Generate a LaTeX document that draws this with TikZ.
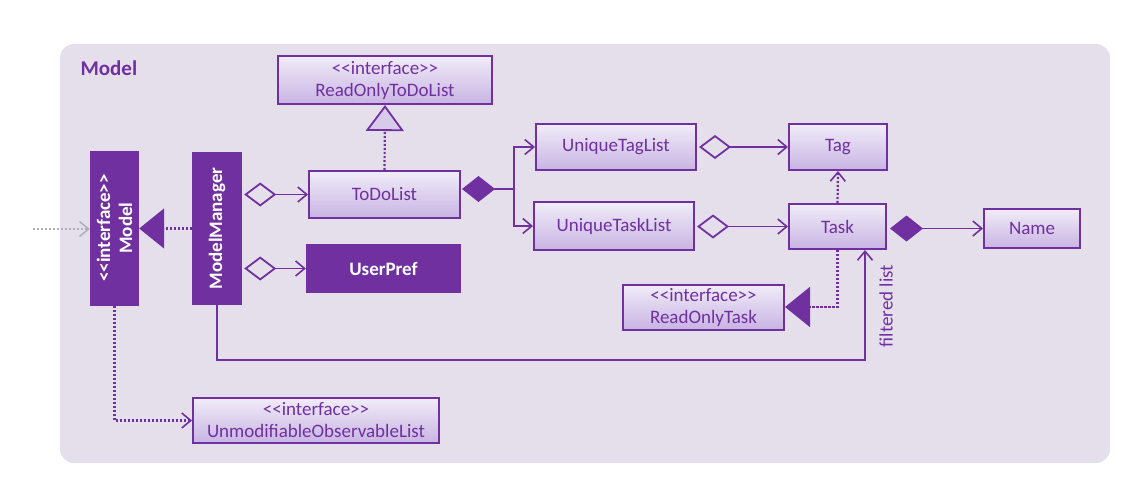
\documentclass[tikz,border=0pt]{standalone}
\usepackage{fontspec}
\setmainfont{Carlito}
\usetikzlibrary{arrows.meta}
\definecolor{pur}{HTML}{7030A0}
\definecolor{bgc}{HTML}{E5DFEC}
\definecolor{boxtop}{HTML}{F1ECF8}
\definecolor{boxbot}{HTML}{C8B4E3}
\definecolor{extgray}{HTML}{B4AEBC}
\newcommand\stereo[1]{<{}<#1>{}>}
\begin{document}
\begin{tikzpicture}[x=1pt,y=-1pt,
  cls/.style={draw=pur, line width=2pt, top color=boxtop, bottom color=boxbot,
    text=pur, font=\fontsize{19}{22}\selectfont, align=center, inner sep=0pt},
  solidcls/.style={fill=pur, text=white, font=\fontsize{19}{22}\selectfont\bfseries,
    align=center, inner sep=0pt},
  link/.style={draw=pur, line width=1.8pt},
  dep/.style={draw=pur, line width=2.2pt, dash pattern=on 2.2pt off 1.8pt},
  opentip/.style={-{Straight Barb[length=9pt,width=15pt,line width=1.6pt]}},
  aggr/.style={{Diamond[open,length=32pt,width=24pt]}-{Straight Barb[length=9pt,width=15pt,line width=1.6pt]}, shorten <=2pt},
  comp/.style={{Diamond[length=33pt,width=26pt]}-, shorten <=1pt},
  compto/.style={{Diamond[length=33pt,width=26pt]}-{Straight Barb[length=9pt,width=15pt,line width=1.6pt]}, shorten <=3pt},
  realize/.style={-{Triangle[length=25pt,width=40pt,line width=1.6pt]}},
  hollowreal/.style={-{Triangle[length=26pt,width=38pt,line width=1.8pt,fill=boxtop!40!boxbot]}}
]
\useasboundingbox (0,0) rectangle (1134,500);

% package frame
\fill[bgc, rounded corners=14pt] (60,44) rectangle (1110,463);
\node[anchor=west, text=pur, font=\fontsize{21}{24}\selectfont\bfseries] (title) at (77,68) {Model};

% classes
\node[solidcls, minimum width=49pt, minimum height=155pt] (modelI) at (114.5,228) {};
\node[solidcls, rotate=90] (modelIlbl) at (modelI.center) {\stereo{interface}\\Model};
\node[solidcls, minimum width=50pt, minimum height=153pt] (mm) at (217,228.5) {};
\node[solidcls, rotate=90] (mmlbl) at (mm.center) {ModelManager};

\node[cls, minimum width=214pt, minimum height=48pt] (rotdl) at (385,80) {\stereo{interface}\\ReadOnlyToDoList};
\node[cls, minimum width=151pt, minimum height=47pt] (todo) at (384.5,194.5) {ToDoList};
\node[solidcls, minimum width=155pt, minimum height=49pt] (userpref) at (383.5,268.5) {UserPref};
\node[cls, minimum width=160pt, minimum height=46pt] (utl) at (616,147) {UniqueTagList};
\node[cls, minimum width=160pt, minimum height=48pt] (utsk) at (614,226) {UniqueTaskList};
\node[cls, minimum width=98pt, minimum height=46pt] (tag) at (838,147) {Tag};
\node[cls, minimum width=97pt, minimum height=45pt] (task) at (837.5,226.5) {Task};
\node[cls, minimum width=96pt, minimum height=39pt] (name) at (1032,228.5) {Name};
\node[cls, minimum width=161pt, minimum height=45pt] (rot) at (703.5,307) {\stereo{interface}\\ReadOnlyTask};
\node[cls, minimum width=246pt, minimum height=45pt] (uol) at (316,420.5) {\stereo{interface}\\UnmodifiableObservableList};

% helper points
\coordinate (ext) at (33,229);
\coordinate (split) at (514,189);
\coordinate (fl) at (865,360);

% connectors
\draw[draw=extgray, line width=2.2pt, dash pattern=on 2.2pt off 1.8pt, -{Straight Barb[length=9pt,width=15pt,line width=1.6pt]}] (ext) -- (ext -| modelI.west);
\draw[dep, realize] (mm.west) -- (mm.west -| modelI.east);
\draw[dep, hollowreal] (todo.north) -- (rotdl.south);
\draw[link, aggr] (mm.east |- todo) -- (todo.west);
\draw[link, aggr] (mm.east |- userpref) -- (userpref.west);
\draw[link, comp] (todo.east |- split) -- (split);
\draw[link, opentip] (split) |- (utl.west);
\draw[link, opentip] (split) |- (utsk.west);
\draw[link, aggr] (utl.east) -- (tag.west);
\draw[link, aggr] (utsk.east |- task) -- (task.west);
\draw[dep, opentip] (task.north) -- (tag.south);
\draw[link, compto] (task.east |- name) -- (name.west);
\draw[dep, realize] (task.south) |- (rot.east);
\draw[link, opentip] (mm.south) |- (fl) -- (fl |- task.south);
\node[rotate=90, text=pur, font=\fontsize{19}{22}\selectfont] (fllbl) at (886,306) {filtered list};
\draw[dep, opentip] (modelI.south) |- (uol.west);

\end{tikzpicture}
\end{document}
